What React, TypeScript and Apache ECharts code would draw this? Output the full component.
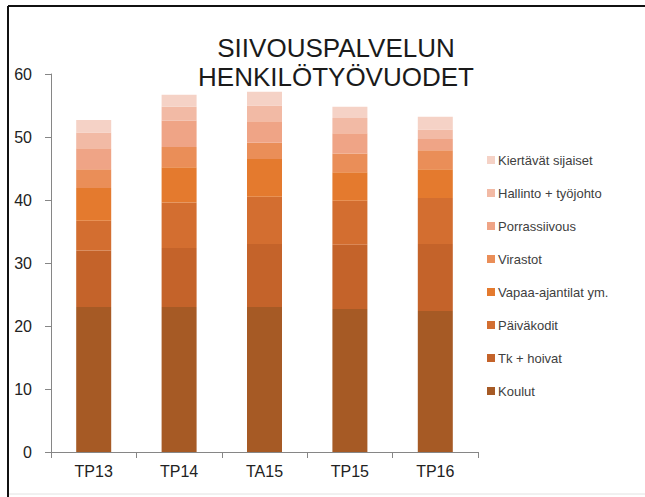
import React, { useEffect, useRef } from "react";
import * as echarts from "echarts";

const categories = ["TP13", "TP14", "TA15", "TP15", "TP16"];
const seriesNames = [
  "Koulut",
  "Tk + hoivat",
  "Päiväkodit",
  "Vapaa-ajantilat ym.",
  "Virastot",
  "Porrassiivous",
  "Hallinto + työjohto",
  "Kiertävät sijaiset",
];
const koulut = [23.0, 23.0, 23.0, 22.7, 22.4];
const tkHoivat = [9.0, 9.4, 10.0, 10.2, 10.6];
const paivakodit = [4.7, 7.2, 7.5, 7.0, 7.3];
const vapaaAjantilat = [5.2, 5.6, 6.0, 4.5, 4.6];
const virastot = [3.0, 3.2, 2.6, 3.0, 3.0];
const porrassiivous = [3.3, 4.2, 3.4, 3.2, 1.8];
const hallinto = [2.5, 2.2, 2.5, 2.4, 1.5];
const kiertavat = [2.0, 1.9, 2.2, 1.8, 2.0];

const colors = [
  "#A65A25",
  "#C4632A",
  "#D36E30",
  "#E47A2E",
  "#EA8E58",
  "#EFA486",
  "#F2BAA5",
  "#F5D2C6",
];

export default function App() {
  const ref = useRef<HTMLDivElement>(null);
  useEffect(() => {
    if (!ref.current) return;
    const chart = echarts.init(ref.current, undefined, { renderer: "svg" });
    const values = [
      koulut,
      tkHoivat,
      paivakodit,
      vapaaAjantilat,
      virastot,
      porrassiivous,
      hallinto,
      kiertavat,
    ];
    const font = "'Liberation Sans', Arial, sans-serif";
    chart.setOption({
      animation: false,
      backgroundColor: "#ffffff",
      textStyle: { fontFamily: font },
      grid: { left: 51, right: 167, top: 74, bottom: 45, containLabel: false },
      legend: {
        orient: "vertical",
        left: 482,
        top: 148,
        data: seriesNames.slice().reverse(),
        icon: "rect",
        itemWidth: 8,
        itemHeight: 8,
        itemGap: 19,
        textStyle: {
          fontFamily: font,
          fontSize: 13,
          color: "#404040",
          lineHeight: 14,
          padding: [0, 0, 0, -2],
        },
        selectedMode: false,
      },
      xAxis: {
        type: "category",
        data: categories,
        axisLine: { lineStyle: { color: "#868686", width: 1 } },
        axisTick: { show: true, length: 6, lineStyle: { color: "#868686" } },
        axisLabel: { color: "#222", fontSize: 16, margin: 11, fontFamily: font },
      },
      yAxis: {
        type: "value",
        min: 0,
        max: 60,
        interval: 10,
        axisLine: { show: true, lineStyle: { color: "#868686", width: 1 } },
        axisTick: { show: true, length: 6, lineStyle: { color: "#868686" } },
        axisLabel: { color: "#222", fontSize: 16, margin: 19, fontFamily: font },
        splitLine: { show: false },
      },
      series: values.map((v, i) => ({
        name: seriesNames[i],
        type: "bar",
        stack: "total",
        barWidth: 35,
        data: v,
        itemStyle: { color: colors[i] },
      })),
      graphic: [
        {
          type: "text",
          x: 336,
          y: 33,
          style: {
            text: "SIIVOUSPALVELUN\nHENKILÖTYÖVUODET",
            font: `26px ${font}`,
            fill: "#1a1a1a",
            textAlign: "center",
            lineHeight: 29,
          },
        },
        {
          type: "line",
          shape: { x1: 8, y1: 6, x2: 8, y2: 497 },
          style: { stroke: "#111", lineWidth: 2 },
        },
        {
          type: "line",
          shape: { x1: 8, y1: 6, x2: 645, y2: 6 },
          style: { stroke: "#111", lineWidth: 2 },
        },
        {
          type: "line",
          shape: { x1: 9, y1: 494, x2: 645, y2: 494 },
          style: { stroke: "#e2e2e2", lineWidth: 1 },
        },
      ],
    });
    return () => chart.dispose();
  }, []);
  return (
    <div
      ref={ref}
      style={{ position: "absolute", left: 0, top: 0, width: 645, height: 497 }}
    />
  );
}
